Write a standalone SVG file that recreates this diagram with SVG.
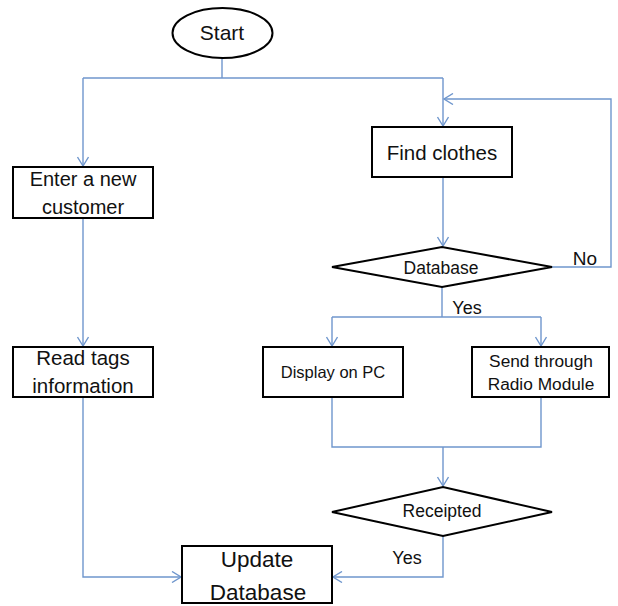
<svg xmlns="http://www.w3.org/2000/svg" width="618" height="606" viewBox="0 0 618 606">
<style>
.box{fill:#fff;stroke:#000;stroke-width:2}
.con{fill:none;stroke:#6f96cd;stroke-width:1.4}
text{font-family:"Liberation Sans",Arial,sans-serif;fill:#111;text-anchor:middle}
</style>
<defs>
<marker id="arr" markerWidth="12" markerHeight="12" viewBox="-10 -6 12 12" refX="0" refY="0" orient="auto" markerUnits="userSpaceOnUse">
<path d="M-9,-5.5 L0,0 L-9,5.5" fill="none" stroke="#6f96cd" stroke-width="1.4"/>
</marker>
</defs>
<rect width="618" height="606" fill="#fff"/>
<g id="connectors">
<path class="con" d="M222,58 V78"/>
<path class="con" d="M83,78 H443"/>
<path class="con" d="M83,78 V166" marker-end="url(#arr)"/>
<path class="con" d="M443,78 V126" marker-end="url(#arr)"/>
<path class="con" d="M83,218 V346" marker-end="url(#arr)"/>
<path class="con" d="M443,177 V246" marker-end="url(#arr)"/>
<path class="con" d="M552,267 H611 V99 H444" marker-end="url(#arr)"/>
<path class="con" d="M442,287 V317"/>
<path class="con" d="M332,317 H541"/>
<path class="con" d="M332,317 V346" marker-end="url(#arr)"/>
<path class="con" d="M541,317 V346" marker-end="url(#arr)"/>
<path class="con" d="M332,397 V447 H541 V397"/>
<path class="con" d="M443,447 V486" marker-end="url(#arr)"/>
<path class="con" d="M443,536 V577 H333" marker-end="url(#arr)"/>
<path class="con" d="M83,397 V577 H181" marker-end="url(#arr)"/>
</g>
<g id="start">
<ellipse cx="222.5" cy="33" rx="50" ry="25" class="box"/>
<text x="222" y="40" font-size="21">Start</text>
</g>
<g id="enter-customer">
<rect x="13" y="167" width="140" height="51" class="box"/>
<text x="83" y="186" font-size="20">Enter a new</text>
<text x="83" y="214" font-size="20">customer</text>
</g>
<g id="read-tags">
<rect x="13" y="347" width="140" height="50" class="box"/>
<text x="83" y="365" font-size="20.5">Read tags</text>
<text x="83" y="393" font-size="20.5">information</text>
</g>
<g id="find-clothes">
<rect x="372" y="127" width="140" height="50" class="box"/>
<text x="442" y="160" font-size="20.5">Find clothes</text>
</g>
<g id="database">
<polygon points="332,267 442,247 552,267 442,287" class="box"/>
<text x="441" y="274" font-size="17.5">Database</text>
<text x="585" y="265" font-size="19">No</text>
<text x="467" y="314" font-size="18">Yes</text>
</g>
<g id="display-pc">
<rect x="263" y="347" width="140" height="50" class="box"/>
<text x="333" y="378" font-size="16.5">Display on PC</text>
</g>
<g id="send-radio">
<rect x="472" y="347" width="137" height="50" class="box"/>
<text x="541" y="367" font-size="17.3">Send through</text>
<text x="541" y="390" font-size="17.3">Radio Module</text>
</g>
<g id="receipted">
<polygon points="332,512 443,487 552,512 443,536" class="box"/>
<text x="442" y="517" font-size="17.5">Receipted</text>
<text x="407" y="564" font-size="18">Yes</text>
</g>
<g id="update-database">
<rect x="182" y="546" width="150" height="57" class="box"/>
<text x="257" y="567" font-size="22.5">Update</text>
<text x="258" y="600" font-size="22.5">Database</text>
</g>
</svg>
